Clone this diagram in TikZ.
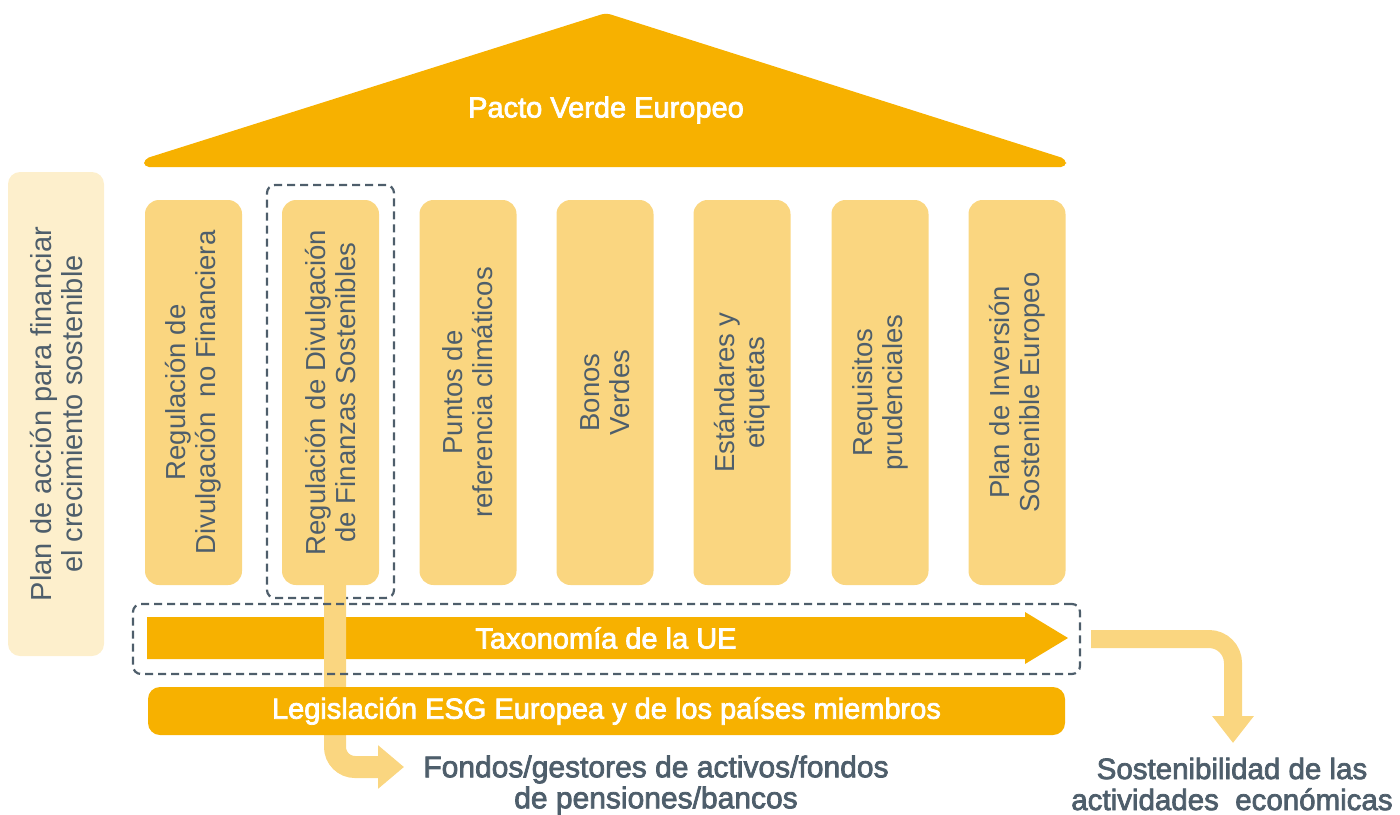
\documentclass[tikz,border=0pt]{standalone}
\usepackage{fontspec}
\setmainfont{Liberation Sans}
\newfontfamily\medfont{Liberation Sans}[FakeBold=2.5]
\usetikzlibrary{arrows.meta}
\definecolor{orng}{HTML}{F7B100}
\definecolor{lite}{HTML}{FAD680}
\definecolor{cream}{HTML}{FDEFCC}
\definecolor{slate}{HTML}{4E5E6B}
\begin{document}
\begin{tikzpicture}[x=1pt,y=-1pt,
  pillar/.style={fill=lite, rounded corners=14, minimum width=97, minimum height=385, inner sep=0},
  ptext/.style={rotate=90, text=slate, align=center, font=\fontsize{27.5}{30}\selectfont},
  whitetext/.style={text=white, font=\medfont\fontsize{29}{32}\selectfont},
  dashbox/.style={draw=slate, line width=2.2, dash pattern=on 8 off 5, rounded corners=8, inner sep=0},
  bottomtext/.style={text=slate, align=center, inner sep=0, font=\medfont\fontsize{30}{31}\selectfont},
  litearrow/.style={draw=lite, line width=#1}
]
\useasboundingbox (0,0) rectangle (1400,814);
% roof
\fill[orng, rounded corners=5] (606,13) -- (1066,159) -- (1066,167) -- (144,167) -- (144,159) -- cycle;
\node[whitetext] (roof) at (606,110) {Pacto Verde Europeo};
% left box
\node[fill=cream, rounded corners=12, minimum width=96, minimum height=484, inner sep=0] (plan) at (56,414) {};
\node[ptext, font=\fontsize{29}{31}\selectfont] (plantext) at (plan) {Plan de acción para financiar\\el crecimiento sostenible};
% pillars
\node[pillar] (p1) at (193.5,392.5) {};
\node[pillar] (p2) at (330.5,392.5) {};
\node[pillar] (p3) at (468,392.5) {};
\node[pillar] (p4) at (605,392.5) {};
\node[pillar] (p5) at (742,392.5) {};
\node[pillar] (p6) at (880,392.5) {};
\node[pillar] (p7) at (1017,392.5) {};
\node[ptext] (t1) at (p1) {Regulación de\\Divulgación\ \ no Financiera};
\node[ptext] (t2) at (p2) {Regulación de Divulgación\\de Finanzas Sostenibles};
\node[ptext] (t3) at (p3) {Puntos de\\referencia climáticos};
\node[ptext] (t4) at (p4) {Bonos\\Verdes};
\node[ptext] (t5) at (p5) {Estándares y\\etiquetas};
\node[ptext] (t6) at (p6) {Requisitos\\prudenciales};
\node[ptext] (t7) at (p7) {Plan de Inversión\\Sostenible Europeo};
% dashed box round pillar 2
\node[dashbox, minimum width=127, minimum height=413] (sfdr) at (330.5,391.5) {};
% taxonomy arrow
\fill[orng] (147,617) -- (1025,617) -- (1025,612) -- (1068,638) -- (1025,664) -- (1025,659) -- (147,659) -- cycle;
\node[whitetext] (tax) at (606,638) {Taxonomía de la UE};
% light arrow from pillar 2
\coordinate (f1) at (404,767);
\draw[litearrow=22, rounded corners=20, -{Triangle[width=42pt,length=26pt]}] ([xshift=4.5]p2.south) |- (f1);
% legislation bar
\node[fill=orng, rounded corners=12, minimum width=917, minimum height=48, inner sep=0] (leg) at (606.5,711) {};
\node[whitetext] (legtext) at (leg) {Legislación ESG Europea y de los países miembros};
% lower dashed box
\node[dashbox, minimum width=947, minimum height=70] (tbox) at (606.5,639) {};
% right arrow
\coordinate (s1) at (1233,743);
\draw[litearrow=18, rounded corners=24, -{Triangle[width=40pt,length=27pt]}] ([xshift=10]tbox.east) -| (s1);
% bottom texts
\node[bottomtext] (fondos) at (656,785) {Fondos/gestores de activos/fondos\\de pensiones/bancos};
\node[bottomtext, font=\medfont\fontsize{29.5}{31}\selectfont] (sost) at (1232,784) {Sostenibilidad de las\\actividades\ \ económicas};
\end{tikzpicture}
\end{document}
